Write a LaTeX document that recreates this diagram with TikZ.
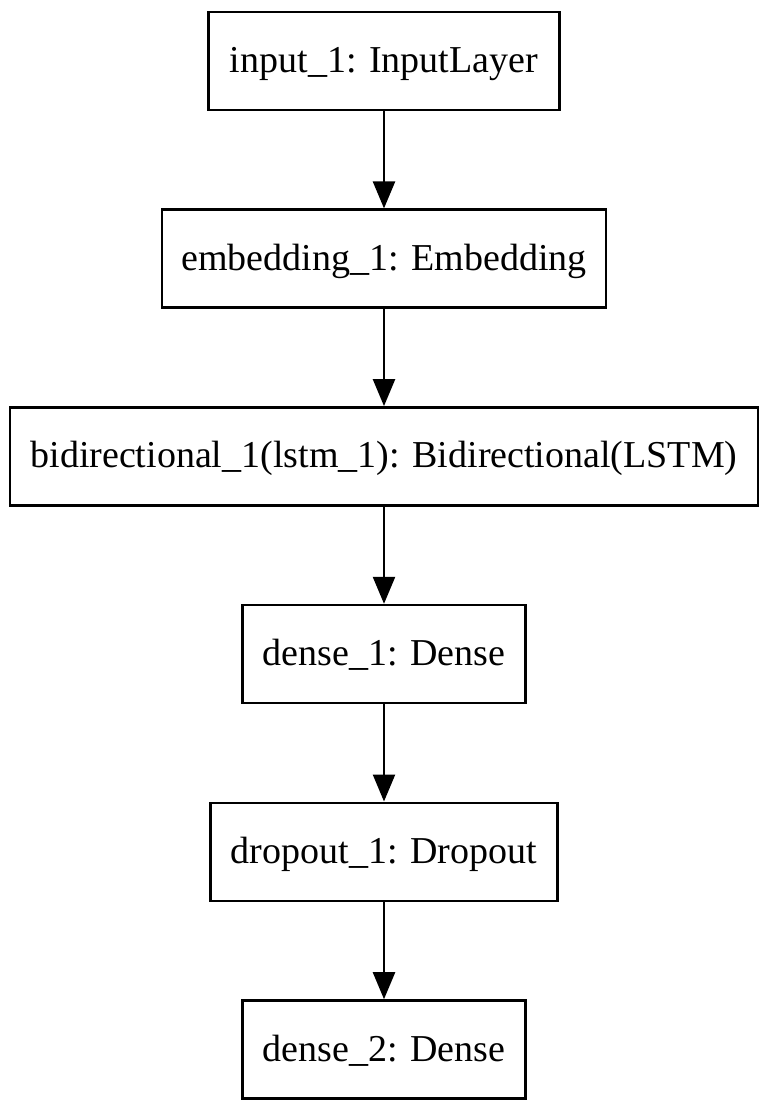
\documentclass[tikz,border=0pt]{standalone}
\usepackage{fontspec}
\setmainfont{Liberation Serif}
\usetikzlibrary{arrows.meta}
\newcommand{\layX}{384}
\newcommand{\layGap}{197.7}
\tikzset{
  layer/.style={draw, line width=2.6pt, minimum height=98pt, inner sep=0pt,
    text height=27pt, text depth=4pt, font=\fontsize{38}{40}\selectfont},
  flow/.style={line width=2.4pt, -{Triangle[length=27pt,width=22pt]}}
}
\begin{document}
\begin{tikzpicture}[x=1pt, y=1pt]
	\useasboundingbox (0,0) rectangle (768,-1111);
	% layers
	\node[layer, minimum width=351pt] (inp) at (\layX, -61) {input\_1: InputLayer};
	\node[layer, minimum width=444pt] (emb) at (\layX, -61-\layGap) {embedding\_1: Embedding};
	\node[layer, minimum width=748pt] (bid) at (\layX, -61-2*\layGap) {bidirectional\_1(lstm\_1): Bidirectional(LSTM)};
	\node[layer, minimum width=283pt] (dns) at (\layX, -61-3*\layGap) {dense\_1: Dense};
	\node[layer, minimum width=347pt] (drp) at (\layX, -61-4*\layGap) {dropout\_1: Dropout};
	\node[layer, minimum width=283pt] (out) at (\layX, -61-5*\layGap) {dense\_2: Dense};
	% edges
	\draw[flow] (inp.south) -- (emb.north);
	\draw[flow] (emb.south) -- (bid.north);
	\draw[flow] (bid.south) -- (dns.north);
	\draw[flow] (dns.south) -- (drp.north);
	\draw[flow] (drp.south) -- (out.north);
\end{tikzpicture}
\end{document}
